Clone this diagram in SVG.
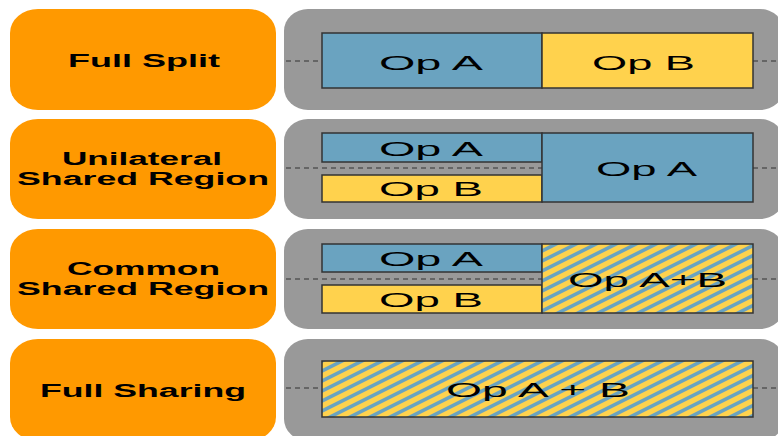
<svg xmlns="http://www.w3.org/2000/svg" width="778" height="436" viewBox="0 0 778 436">
<style>
.lab{fill:#ff9900}
.bg{fill:#999999}
.lt{font-family:"Liberation Sans",Arial,sans-serif;font-weight:bold;font-size:18px;fill:#000;text-anchor:middle}
.ot{font-family:"Liberation Sans",Arial,sans-serif;font-size:21px;fill:#000;text-anchor:middle}
.a{fill:#6aa3c0;stroke:#333;stroke-width:1.5}
.b{fill:#ffd24d;stroke:#333;stroke-width:1.5}
.h{fill:url(#hatch);stroke:#333;stroke-width:1.5}
.d{stroke:#333;stroke-width:1.2;stroke-dasharray:5 4;fill:none}
</style>
<defs>
<pattern id="hatch" patternUnits="userSpaceOnUse" width="10" height="10" patternTransform="skewY(-26.565)">
<rect width="10" height="10" fill="#ffd24d"/>
<rect width="10" height="4" fill="#6aa3c0"/>
</pattern>
</defs>
<rect width="778" height="436" fill="#fff"/>
<g id="labels">
<g id="label-full-split"><rect class="lab" x="10" y="9" width="266" height="101" rx="28" ry="24"/><text class="lt" x="144" y="67" textLength="152" lengthAdjust="spacingAndGlyphs">Full Split</text></g>
<g id="label-unilateral"><rect class="lab" x="10" y="119" width="266" height="100" rx="28" ry="24"/><text class="lt" x="142" y="165" textLength="160" lengthAdjust="spacingAndGlyphs">Unilateral</text><text class="lt" x="143" y="185" textLength="252" lengthAdjust="spacingAndGlyphs">Shared Region</text></g>
<g id="label-common"><rect class="lab" x="10" y="229" width="266" height="100" rx="28" ry="24"/><text class="lt" x="143.5" y="275" textLength="153" lengthAdjust="spacingAndGlyphs">Common</text><text class="lt" x="143" y="295" textLength="252" lengthAdjust="spacingAndGlyphs">Shared Region</text></g>
<g id="label-full-sharing"><rect class="lab" x="10" y="339" width="266" height="102" rx="28" ry="24"/><text class="lt" x="143" y="397" textLength="206" lengthAdjust="spacingAndGlyphs">Full Sharing</text></g>
</g>
<g id="row1"><rect class="bg" x="284" y="9" width="500" height="101" rx="24" ry="22"/></g>
<g id="row2"><rect class="bg" x="284" y="119" width="500" height="100" rx="24" ry="22"/></g>
<g id="row3"><rect class="bg" x="284" y="229" width="500" height="100" rx="24" ry="22"/></g>
<g id="row4"><rect class="bg" x="284" y="339" width="500" height="102" rx="24" ry="22"/></g>
<g id="connectors">
<path class="d" d="M286 61H322M753 61H778"/>
<path class="d" d="M286 168H542M753 168H778"/>
<path class="d" d="M286 279H542M753 279H778"/>
<path class="d" d="M286 388H322M753 388H778"/>
</g>
<g id="full-split-opa"><rect class="a" x="322" y="33" width="220" height="55"/><text class="ot" x="431" y="70" textLength="104" lengthAdjust="spacingAndGlyphs">Op A</text></g>
<g id="full-split-opb"><rect class="b" x="542" y="33" width="211" height="55"/><text class="ot" x="643.5" y="70" textLength="103" lengthAdjust="spacingAndGlyphs">Op B</text></g>
<g id="uni-opa"><rect class="a" x="322" y="133" width="220" height="29"/><text class="ot" x="431" y="156" textLength="104" lengthAdjust="spacingAndGlyphs">Op A</text></g>
<g id="uni-opb"><rect class="b" x="322" y="175" width="220" height="27"/><text class="ot" x="431" y="196" textLength="104" lengthAdjust="spacingAndGlyphs">Op B</text></g>
<g id="uni-opa-shared"><rect class="a" x="542" y="133" width="211" height="69"/><text class="ot" x="646.5" y="176" textLength="101" lengthAdjust="spacingAndGlyphs">Op A</text></g>
<g id="com-opa"><rect class="a" x="322" y="244" width="220" height="28"/><text class="ot" x="431" y="266" textLength="104" lengthAdjust="spacingAndGlyphs">Op A</text></g>
<g id="com-opb"><rect class="b" x="322" y="285" width="220" height="28"/><text class="ot" x="431" y="307" textLength="104" lengthAdjust="spacingAndGlyphs">Op B</text></g>
<g id="com-shared"><rect class="h" x="542" y="244" width="211" height="69"/><text class="ot" x="647.5" y="287" textLength="159" lengthAdjust="spacingAndGlyphs">Op A+B</text></g>
<g id="full-sharing"><rect class="h" x="322" y="361" width="431" height="56"/><text class="ot" x="538" y="397" textLength="184" lengthAdjust="spacingAndGlyphs">Op A + B</text></g>
</svg>
